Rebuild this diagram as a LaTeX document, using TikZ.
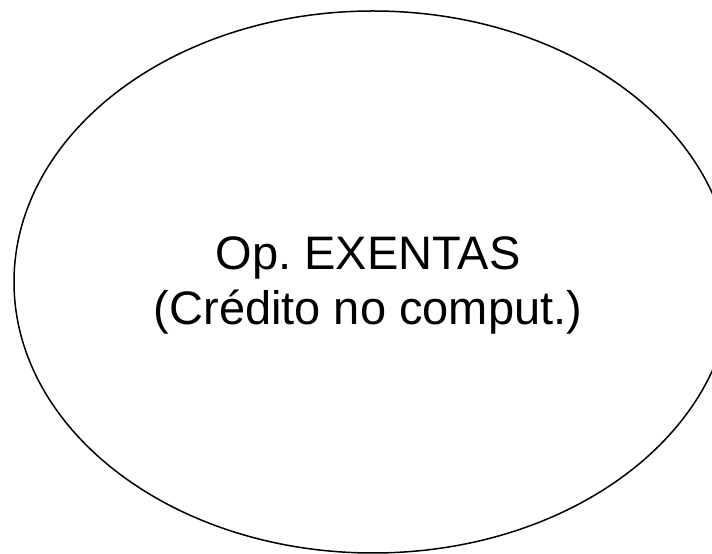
\documentclass[tikz,border=0pt]{standalone}
\usepackage{fontspec}
\setmainfont{Liberation Sans}
\usepackage{tikz}

\begin{document}
\begin{tikzpicture}[x=1pt,y=1pt]
\clip (0,0) rectangle (712,554);
\useasboundingbox (0,0) rectangle (712,554);
\begin{scope}[line width=1.5pt]
\draw (373,272) ellipse [x radius=359, y radius=271];
\end{scope}
\node[align=center,font=\fontsize{47}{55}\selectfont\frenchspacing] (exentas) at (368,269)
  {Op. EXENTAS\\(Crédito no comput.)};
\end{tikzpicture}
\end{document}
